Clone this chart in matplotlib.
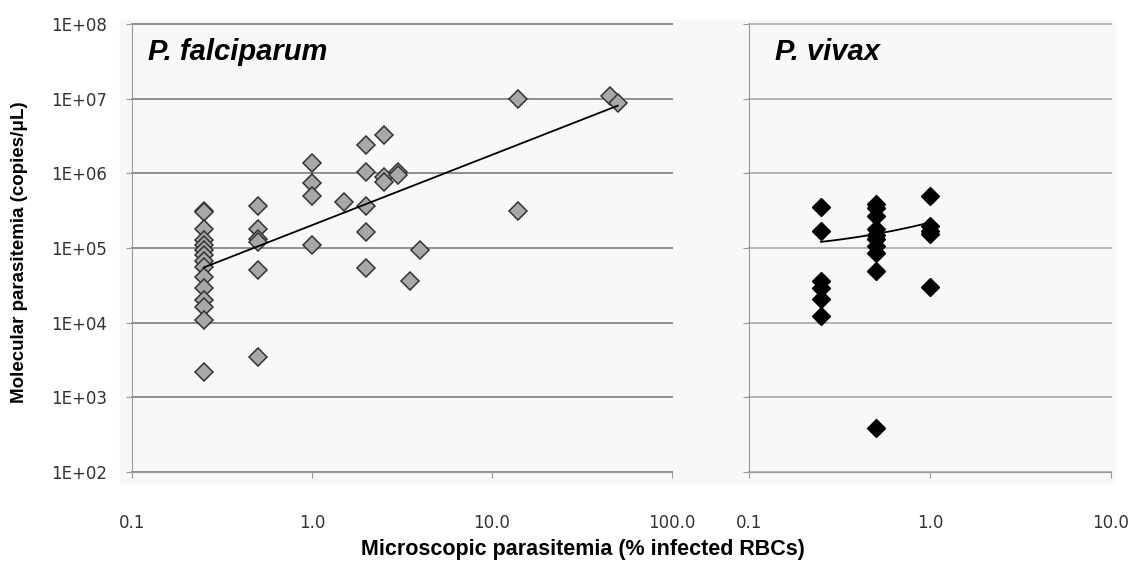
import numpy as np
import matplotlib.pyplot as plt
from matplotlib.patches import Rectangle

# P. falciparum: microscopic (% infected RBCs) vs molecular (copies/uL)
pf_x = [0.25, 0.25, 0.25, 0.25, 0.25, 0.25, 0.25, 0.25, 0.25, 0.25, 0.25, 0.25, 0.25, 0.25, 0.25,
        0.5, 0.5, 0.5, 0.5, 0.5, 0.5,
        1.0, 1.0, 1.0, 1.0,
        1.5,
        2.0, 2.0, 2.0, 2.0, 2.0,
        2.5, 2.5, 2.5,
        3.0, 3.0,
        3.5, 4.0,
        14, 14,
        45, 50]
pf_y = [3.1e5, 3.0e5, 1.8e5, 1.28e5, 1.1e5, 9.4e4, 8.1e4, 6.7e4, 5.6e4, 4.1e4, 2.9e4, 2.0e4, 1.6e4, 1.1e4, 2.2e3,
        3.6e5, 1.8e5, 1.33e5, 1.2e5, 5.0e4, 3.5e3,
        1.36e6, 7.4e5, 4.9e5, 1.1e5,
        4.1e5,
        2.36e6, 1.03e6, 3.7e5, 1.63e5, 5.4e4,
        3.3e6, 8.8e5, 7.6e5,
        1.03e6, 9.4e5,
        3.6e4, 9.4e4,
        1.0e7, 3.1e5,
        1.1e7, 8.8e6]

# P. vivax
pv_x = [0.25, 0.25, 0.25, 0.25, 0.25, 0.25,
        0.5, 0.5, 0.5, 0.5, 0.5, 0.5, 0.5, 0.5, 0.5, 0.5,
        1.0, 1.0, 1.0, 1.0, 1.0]
pv_y = [3.5e5, 1.7e5, 3.6e4, 2.9e4, 2.1e4, 1.24e4,
        3.9e5, 3.4e5, 2.7e5, 1.78e5, 1.5e5, 1.3e5, 1.05e5, 8.6e4, 4.9e4, 3.9e2,
        4.9e5, 2.0e5, 1.7e5, 1.55e5, 3.0e4]

y_ticks = [1e2, 1e3, 1e4, 1e5, 1e6, 1e7, 1e8]
y_labels = ['1E+02', '1E+03', '1E+04', '1E+05', '1E+06', '1E+07', '1E+08']
pf_xticks = [0.1, 1, 10, 100]
pf_xlabels = ['0.1', '1.0', '10.0', '100.0']
pv_xticks = [0.1, 1, 10]
pv_xlabels = ['0.1', '1.0', '10.0']

W, H = 1135, 561
fig = plt.figure(figsize=(W / 100, H / 100), dpi=100)
fig.patches.append(Rectangle((120 / W, 1 - 483 / H), 995 / W, 463 / H,
                             transform=fig.transFigure, color='#f8f8f8', zorder=-1))

ax1 = fig.add_axes([132 / W, 1 - 472 / H, 540 / W, 448 / H])
ax2 = fig.add_axes([749 / W, 1 - 472 / H, 362 / W, 448 / H])


def style(ax, xticks, xlabels, xlim, gridcol):
    ax.set_xscale('log')
    ax.set_yscale('log')
    ax.set_xlim(xlim)
    ax.set_ylim(1e2, 1e8)
    ax.set_facecolor('none')
    ax.set_xticks(xticks, xlabels)
    ax.set_yticks(y_ticks, y_labels)
    ax.minorticks_off()
    for s in ['top', 'right']:
        ax.spines[s].set_visible(False)
    for s in ['left', 'bottom']:
        ax.spines[s].set_color('#999999')
    ax.yaxis.grid(True, color=gridcol, linewidth=1.4)
    ax.set_axisbelow(True)
    ax.tick_params(axis='both', direction='out', length=4, color='#999999',
                   labelsize=12, labelcolor='#333333')
    ax.tick_params(axis='x', pad=26)
    ax.tick_params(axis='y', pad=14)
    for gl in ax.get_ygridlines():
        gl.set_clip_on(False)


style(ax1, pf_xticks, pf_xlabels, (0.1, 100), '#8e8e8e')
style(ax2, pv_xticks, pv_xlabels, (0.1, 10), '#b4b4b4')
ax2.tick_params(axis='y', labelleft=False)

ax1.plot(pf_x, pf_y, linestyle='none', marker='D', markersize=8.8,
         markerfacecolor='#a8a8a8', markeredgecolor='#333333', markeredgewidth=1.1, zorder=3)
ax2.plot(pv_x, pv_y, linestyle='none', marker='D', markersize=9.3,
         markerfacecolor='black', markeredgecolor='black', zorder=3)

# trendlines: power fit (falciparum), linear fit (vivax)
c1 = np.polyfit(np.log10(pf_x), np.log10(pf_y), 1)
tx = np.logspace(np.log10(min(pf_x)), np.log10(max(pf_x)), 100)
ax1.plot(tx, 10 ** np.polyval(c1, np.log10(tx)), color='black', linewidth=1.3, zorder=4)

c2 = np.polyfit(pv_x, pv_y, 1)
tx2 = np.linspace(min(pv_x), max(pv_x), 100)
ax2.plot(tx2, np.polyval(c2, tx2), color='black', linewidth=1.3, zorder=4)

fig.text(148 / W, 1 - 60 / H, 'P. falciparum', fontsize=21, fontweight='bold',
         style='italic', family='Liberation Sans', va='baseline')
fig.text(775 / W, 1 - 60 / H, 'P. vivax', fontsize=21, fontweight='bold',
         style='italic', family='Liberation Sans', va='baseline')

fig.text(20 / W, 1 - 252 / H, 'Molecular parasitemia (copies/\u03bcL)', rotation=90,
         fontsize=13.5, fontweight='bold', family='Liberation Sans', ha='center', va='center')
fig.text(583 / W, 1 - 550 / H, 'Microscopic parasitemia (% infected RBCs)',
         fontsize=15.5, fontweight='bold', family='Liberation Sans', ha='center', va='center')

fig.savefig('out.png', dpi=100)
